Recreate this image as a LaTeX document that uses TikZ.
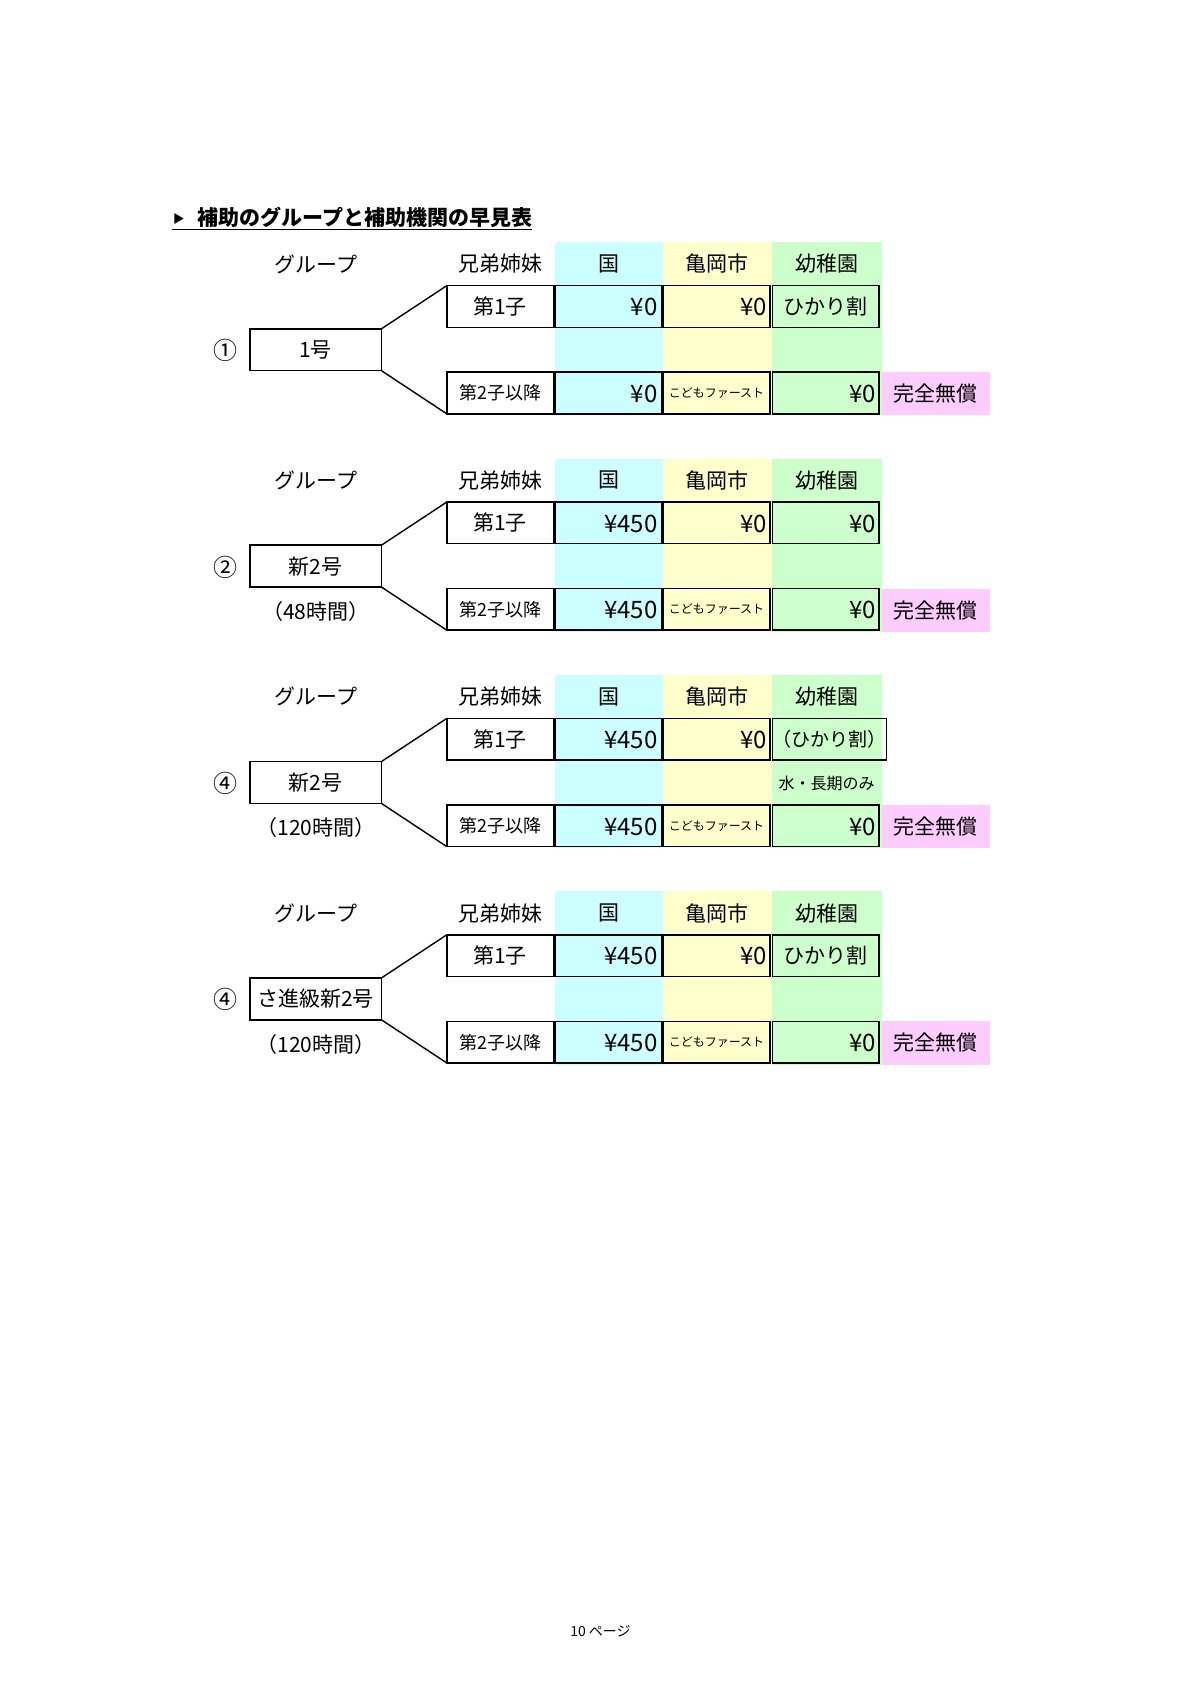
\documentclass[tikz,border=0pt]{standalone}
\usepackage{fontspec}
\usetikzlibrary{shapes.geometric}
\setmainfont{Noto Sans CJK JP}
\definecolor{cK}{HTML}{CCFFFF}
\definecolor{cY}{HTML}{FFFFCC}
\definecolor{cG}{HTML}{CCFFCC}
\definecolor{cP}{HTML}{FFCCFF}
\begin{document}
\begin{tikzpicture}[x=0.541pt,y=-0.541pt,
  cell/.style={draw=black,line width=0.8pt,minimum width=53.3pt,minimum height=20.84pt,inner sep=0pt,outer sep=0pt,anchor=north west,font=\fontsize{10.5}{12}\selectfont},
  lbl/.style={font=\fontsize{10.5}{12}\selectfont,inner sep=1pt},
  yen/.style={font=\fontsize{12}{12}\selectfont,anchor=east,inner sep=0pt},
  small/.style={font=\fontsize{6}{7}\selectfont,inner sep=0pt},
  conn/.style={line width=0.7pt}]
\useasboundingbox (0,0) rectangle (1100,1555.6);
\fill[white] (0,0) rectangle (1100,1555.6);
% title
\node[fill=black,regular polygon,regular polygon sides=3,shape border rotate=-90,inner sep=1.1pt] (tri) at (164,202) {};
\node[anchor=west,font=\fontsize{10.5}{12}\selectfont\bfseries,inner sep=0pt] (title) at (182,201) {補助のグループと補助機関の早見表};
\draw[line width=0.7pt] (159,212) -- (492,212);
\node[font=\fontsize{7}{8}\selectfont] (page) at (555,1508) {10 ページ};
\foreach \k/\cn/\grp/\sbl/\ka/\kb/\ya/\yb/\md in {
  0/①/1号//¥0/¥0/ひかり割//,
  1/②/新2号/（48時間）/¥450/¥450//¥0/,
  2/④/新2号/（120時間）/¥450/¥450/{\fontsize{9.5}{10}\selectfont（ひかり割）}//水・長期のみ,
  3/④/さ進級新2号/（120時間）/¥450/¥450/ひかり割//} {
  \begin{scope}[yshift={-0.541pt*200*\k}]
  \fill[cK] (513,224) rectangle (613,384);
  \fill[cY] (613,224) rectangle (714,384);
  \fill[cG] (714,224) rectangle (815,384);
  \fill[cP] (815,344) rectangle (915,384);
  \node[lbl] (g\k) at (292,244) {グループ};
  \node[lbl] (s\k) at (463,244) {兄弟姉妹};
  \node[lbl] (hk\k) at (563,244) {国};
  \node[lbl] (hc\k) at (663,244) {亀岡市};
  \node[lbl] (hy\k) at (764,244) {幼稚園};
  \node[cell,minimum width=65.7pt] (grp\k) at (231,304) {\grp};
  \node[lbl,font=\fontsize{12}{12}\selectfont] (c\k) at (208,324) {\cn};
  \node[lbl] (sub\k) at (292,365) {\sbl};
  \node[cell] (r1\k) at (413,264) {第1子};
  \node[cell] (r1k\k) at (513,264) {};
  \node[cell] (r1c\k) at (613,264) {};
  \node[cell] (r1y\k) at (714,264) {\ya};
  \node[cell,font=\fontsize{9}{10}\selectfont] (r2\k) at (413,344) {第2子以降};
  \node[cell] (r2k\k) at (513,344) {};
  \node[cell,small] (r2c\k) at (613,344) {こどもファースト};
  \node[cell] (r2y\k) at (714,344) {};
  \node[lbl] (free\k) at (865,364) {完全無償};
  \node[yen] (v1k\k) at (608,284) {\ka};
  \node[yen] (v1c\k) at (709,284) {¥0};
  \node[yen] (v1y\k) at (810,284) {\yb};
  \node[yen] (v2k\k) at (608,364) {\kb};
  \node[yen] (v2y\k) at (810,364) {¥0};
  \node[font=\fontsize{8}{9}\selectfont] (m\k) at (764,324) {\md};
  \draw[conn] (grp\k.north east) -- (r1\k.north west);
  \draw[conn] (grp\k.south east) -- (r2\k.south west);
  \end{scope}
}
\end{tikzpicture}
\end{document}
